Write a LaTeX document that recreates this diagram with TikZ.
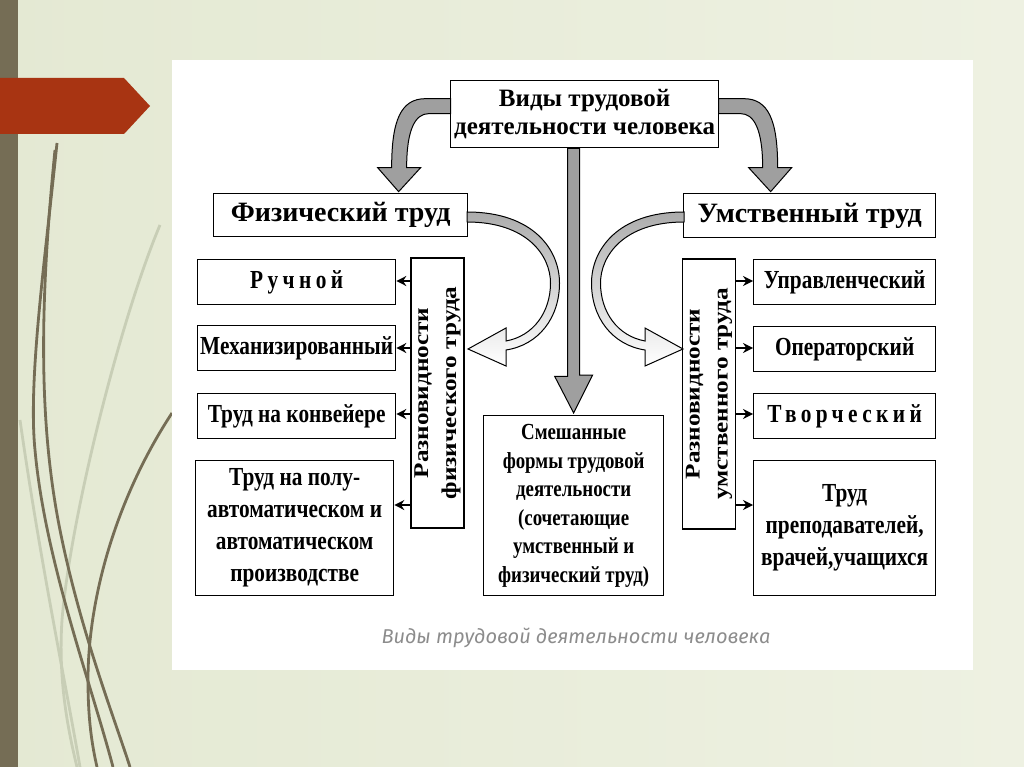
\documentclass[tikz,border=0pt]{standalone}
\usepackage{fontspec}
\setmainfont{Liberation Serif}
\newfontfamily\condfont[FakeStretch=0.82]{Liberation Serif}
\newfontfamily\vertfont[FakeStretch=1.2]{Liberation Serif}
\newfontfamily\capfont{Fira Sans}
\usetikzlibrary{arrows.meta}
\definecolor{slidebg}{RGB}{228,233,211}
\definecolor{slidebg2}{RGB}{238,241,226}
\definecolor{barbrown}{RGB}{117,109,85}
\definecolor{arrowred}{RGB}{168,52,18}
\definecolor{palegreen}{RGB}{200,206,182}

\begin{document}
\begin{tikzpicture}[x=1pt,y=-1pt,
		box_style/.style={draw=black,line width=1.3pt,fill=white,inner sep=0pt,align=center,anchor=north west,font=\condfont\bfseries\fontsize{26}{32}\selectfont},
		head_style/.style={box_style,font=\bfseries\fontsize{28}{32}\selectfont},
		vert_style/.style={draw=black,line width=1.3pt,fill=white,inner sep=0pt,align=center,rotate=90,minimum width=270,minimum height=53,font=\vertfont\bfseries\fontsize{21}{28}\selectfont},
		small_arrow/.style={draw=black,line width=1.4pt,-{Stealth[length=10pt,width=10pt]}},
		bent_style/.style={draw=black,line width=1pt,fill=gray!75},
		hollow_style/.style={draw=black,line width=1pt,top color=gray!65,bottom color=white},
		curve_style/.style={draw=barbrown,line width=2.8pt},
		pale_style/.style={draw=palegreen,line width=2.8pt}]

		% slide background
		\useasboundingbox (0,0) rectangle (1024,767);
		\shade[left color=slidebg,right color=slidebg2] (0,0) rectangle (1024,767);
		\fill[barbrown] (0,0) rectangle (18,767);
		\draw[pale_style] (20,420) .. controls (40,560) and (65,680) .. (80,767);
		\draw[pale_style] (160,225) .. controls (120,320) and (70,520) .. (62,620) .. controls (58,680) and (68,730) .. (77,767);
		\draw[curve_style] (57,143) .. controls (45,260) and (28,380) .. (35,450) .. controls (45,560) and (90,680) .. (113,767);
		\draw[curve_style] (55,150) .. controls (40,300) and (38,420) .. (60,530) .. controls (80,630) and (115,720) .. (130,767);
		\draw[curve_style] (172,413) .. controls (115,500) and (88,600) .. (88,680) .. controls (88,720) and (92,745) .. (97,767);
		\fill[arrowred] (0,78) -- (124,78) -- (150,106) -- (124,134) -- (0,134) -- cycle;
		\fill[white] (172,60) rectangle (973,670);

		% boxes
		\node[head_style,minimum width=268,minimum height=67,font=\bfseries\fontsize{25}{28}\selectfont] (vidy) at (450,80) {Виды трудовой\\деятельности человека};
		\node[head_style,minimum width=254,minimum height=43] (fiz) at (213,193) {Физический труд};
		\node[head_style,minimum width=252,minimum height=44] (umst) at (683,193) {Умственный труд};

		\node[box_style,minimum width=198,minimum height=45] (ruch) at (197,259) {\addfontfeature{LetterSpace=17}Ручной};
		\node[box_style,minimum width=198,minimum height=45] (mech) at (197,325) {Механизированный};
		\node[box_style,minimum width=198,minimum height=45] (konv) at (197,393) {Труд на конвейере};
		\node[box_style,minimum width=198,minimum height=135] (avto) at (195,460) {Труд на полу-\\автоматическом и\\автоматическом\\производстве};

		\node[box_style,minimum width=182,minimum height=45] (uprav) at (753,259) {Управленческий};
		\node[box_style,minimum width=182,minimum height=45] (oper) at (753,326) {Операторский};
		\node[box_style,minimum width=182,minimum height=45] (tvor) at (753,393) {\addfontfeature{LetterSpace=17}Творческий};
		\node[box_style,minimum width=182,minimum height=135] (prep) at (753,460) {Труд\\преподавателей,\\врачей,учащихся};

		\node[box_style,minimum width=180,minimum height=180,font=\condfont\bfseries\fontsize{23}{28.5}\selectfont] (smesh) at (483,415) {Смешанные\\формы трудовой\\деятельности\\(сочетающие\\умственный и\\физический труд)};

		\node[vert_style] (vfiz) at (437.5,393) {Разновидности\\физического труда};
		\node[vert_style] (vumst) at (709,394) {Разновидности\\умственного труда};

		% small arrows
		\foreach \n/\yy in {ruch/281,mech/348,konv/414,avto/505}
			\draw[small_arrow] (vfiz.north |- 0,\yy) -- (\n.east |- 0,\yy);
		\foreach \n/\yy in {uprav/281,oper/348,tvor/414,prep/505}
			\draw[small_arrow] (vumst.south |- 0,\yy) -- (\n.west |- 0,\yy);

		% arrow to the mixed forms
		\coordinate (ctop) at (vidy.south -| smesh.north);
		\draw[bent_style] ([xshift=-6]ctop) -- ++(0,228) -- ++(-13,0) -- ([yshift=2]smesh.north) -- ++(19,-38) -- ++(-13,0) -- ([xshift=6]ctop) -- cycle;

		% bent arrows from the top box
		\foreach \s in {1,-1}{
			\begin{scope}[shift={(vidy.center)},xscale=\s]
				\draw[bent_style] (-134,-15.5) -- (-159,-15.5) .. controls (-184,-15.5) and (-193,6.5) .. (-193,53.5) -- (-207,53.5) -- (-186,77.5) -- (-164,53.5) -- (-178,53.5) .. controls (-178,14.5) and (-169,-0.5) .. (-156,-0.5) -- (-134,-0.5) -- cycle;
			\end{scope}
		}

		% hollow curved arrows
		\foreach \s in {1,-1}{
			\begin{scope}[shift={(575.5,0)},xscale=\s]
				\draw[hollow_style] (-108.5,212) .. controls (-42,212) and (-16,250) .. (-16,283) .. controls (-16,318) and (-37,345) .. (-69.5,350) -- (-69.5,366) -- (-107.5,349) -- (-69.5,328) -- (-69.5,341) .. controls (-42,336) and (-25,312) .. (-25,283) .. controls (-25,256) and (-48,222) .. (-108.5,222) -- cycle;
			\end{scope}
		}

		% caption
		\node[font=\capfont\itshape\fontsize{20}{24}\selectfont,text=black!45] (caption) at (576,638) {Виды трудовой деятельности человека};

\end{tikzpicture}
\end{document}
